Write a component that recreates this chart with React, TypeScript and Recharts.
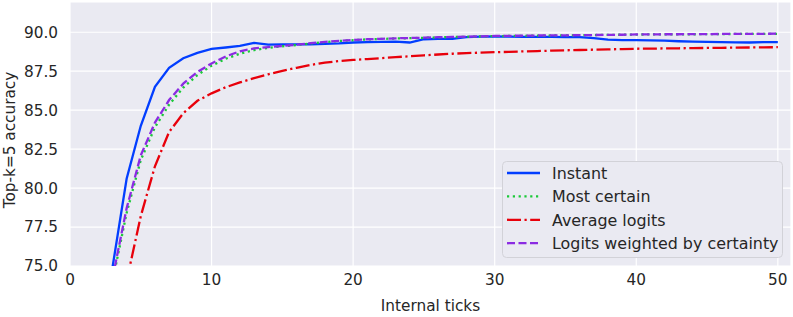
import React from 'react';
import { LineChart, Line, XAxis, YAxis, CartesianGrid, Legend } from 'recharts';

const FONT = '"DejaVu Sans", sans-serif';
const TEXT = '#262626';

// internal tick index (x)
const ticks = [
  1, 2, 3, 4, 5, 6, 7, 8, 9, 10,
  11, 12, 13, 14, 15, 16, 17, 18, 19, 20,
  21, 22, 23, 24, 25, 26, 27, 28, 29, 30,
  31, 32, 33, 34, 35, 36, 37, 38, 39, 40,
  41, 42, 43, 44, 45, 46, 47, 48, 49, 50,
];

const instant = [
  null, null, 74.9, 80.6, 84.0, 86.5, 87.72, 88.33, 88.68, 88.93,
  89.02, 89.12, 89.32, 89.2, 89.22, 89.22, 89.23, 89.25, 89.28, 89.34,
  89.36, 89.38, 89.4, 89.34, 89.55, 89.57, 89.58, 89.68, 89.72, 89.74,
  89.72, 89.7, 89.7, 89.7, 89.68, 89.68, 89.62, 89.53, 89.5, 89.5,
  89.48, 89.46, 89.42, 89.4, 89.38, 89.36, 89.35, 89.34, 89.36, 89.36,
];

const mostCertain = [
  null, null, 74.0, 78.4, 81.8, 83.9, 85.35, 86.45, 87.25, 87.85,
  88.3, 88.62, 88.85, 89.0, 89.1, 89.18, 89.28, 89.37, 89.44, 89.49,
  89.54, 89.57, 89.6, 89.62, 89.64, 89.67, 89.69, 89.71, 89.73, 89.75,
  89.76, 89.77, 89.78, 89.79, 89.8, 89.81, 89.82, 89.83, 89.84, 89.85,
  89.86, 89.86, 89.87, 89.87, 89.88, 89.88, 89.89, 89.89, 89.9, 89.9,
];

const averageLogits = [
  null, null, null, 74.05, 78.2, 81.4, 83.6, 84.8, 85.6, 86.08,
  86.47, 86.78, 87.05, 87.3, 87.52, 87.72, 87.9, 88.05, 88.15, 88.22,
  88.28, 88.34, 88.4, 88.46, 88.52, 88.57, 88.62, 88.66, 88.69, 88.72,
  88.74, 88.77, 88.79, 88.82, 88.84, 88.86, 88.88, 88.9, 88.92, 88.94,
  88.95, 88.96, 88.97, 88.98, 88.99, 89.0, 89.01, 89.02, 89.03, 89.04,
];

const logitsWeighted = [
  null, null, 74.2, 78.7, 82.1, 84.2, 85.65, 86.7, 87.45, 88.0,
  88.45, 88.78, 88.96, 89.05, 89.12, 89.2, 89.3, 89.38, 89.45, 89.5,
  89.55, 89.58, 89.61, 89.63, 89.65, 89.68, 89.7, 89.72, 89.74, 89.76,
  89.77, 89.78, 89.79, 89.8, 89.8, 89.81, 89.82, 89.83, 89.84, 89.86,
  89.86, 89.87, 89.87, 89.88, 89.88, 89.89, 89.89, 89.9, 89.9, 89.91,
];

const xTicks = [0, 10, 20, 30, 40, 50];
const yTicks = [75, 77.5, 80, 82.5, 85, 87.5, 90];

const series = [
  { key: 'instant', name: 'Instant', color: '#023eff', dash: undefined },
  { key: 'mostCertain', name: 'Most certain', color: '#1ac938', dash: '2.2 3.6' },
  { key: 'averageLogits', name: 'Average logits', color: '#e8000b', dash: '14 3.5 2.2 3.5' },
  { key: 'logitsWeighted', name: 'Logits weighted by certainty', color: '#8b2be2', dash: '8 3.5' },
];

const chartData = ticks.map((t, i) => ({
  tick: t,
  instant: instant[i],
  mostCertain: mostCertain[i],
  averageLogits: averageLogits[i],
  logitsWeighted: logitsWeighted[i],
}));

const tickStyle = { fontSize: 15.3, fill: TEXT, fontFamily: FONT };

function YLabel() {
  return (
    <text x={15} y={140} transform="rotate(-90 15 140)" textAnchor="middle" fill={TEXT} fontSize={15.3} fontFamily={FONT}>
      Top-k=5 accuracy
    </text>
  );
}

function LegendBox() {
  return (
    <svg width={281} height={97} style={{ display: 'block' }}>
      <rect x={0.5} y={0.5} width={280} height={96} rx={4} fill="#EAEAF2" stroke="#d2d2d8" />
      {series.map((s, i) => {
        const cy = 12 + i * 23.4;
        return (
          <g key={s.key}>
            <line x1={5} x2={38} y1={cy} y2={cy} stroke={s.color} strokeWidth={2.3} strokeDasharray={s.dash} />
            <text x={50} y={cy + 5.8} fill={TEXT} fontSize={15.9} fontFamily={FONT}>{s.name}</text>
          </g>
        );
      })}
    </svg>
  );
}

export default function App() {
  return (
    <div style={{ position: 'absolute', left: 0, top: 0, width: 793, height: 317, background: '#ffffff' }}>
      <LineChart width={793} height={317} data={chartData} margin={{ top: 2, right: 2, left: 0, bottom: 0 }}>
        <CartesianGrid stroke="#ffffff" strokeWidth={1.2} fill="#EAEAF2" fillOpacity={1} />
        <XAxis
          type="number"
          dataKey="tick"
          domain={[0, 50.93]}
          ticks={xTicks}
          allowDataOverflow
          axisLine={false}
          tickLine={false}
          tickSize={0}
          tickMargin={8}
          height={51}
          tick={tickStyle}
          label={{ value: 'Internal ticks', position: 'insideBottom', offset: 6, fill: TEXT, fontSize: 15.3, fontFamily: FONT }}
        />
        <YAxis
          type="number"
          domain={[75, 91.94]}
          ticks={yTicks}
          allowDataOverflow
          axisLine={false}
          tickLine={false}
          tickSize={0}
          tickMargin={12}
          width={70}
          tick={tickStyle}
          tickFormatter={(v: number) => v.toFixed(1)}
          label={<YLabel />}
        />
        {series.map(s => (
          <Line
            key={s.key}
            type="linear"
            dataKey={s.key}
            name={s.name}
            stroke={s.color}
            strokeWidth={2.3}
            strokeDasharray={s.dash}
            dot={false}
            activeDot={false}
            isAnimationActive={false}
          />
        ))}
        <Legend
          layout="vertical"
          align="center"
          verticalAlign="middle"
          wrapperStyle={{ left: 502, top: 161, width: 281, height: 97 }}
          content={() => <LegendBox />}
        />
      </LineChart>
    </div>
  );
}
